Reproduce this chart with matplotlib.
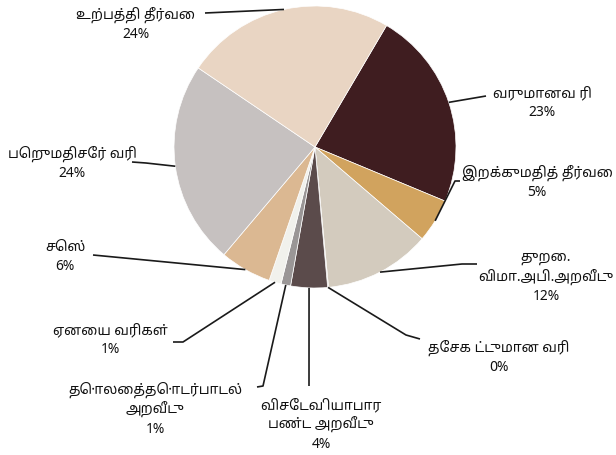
import matplotlib
matplotlib.use("Agg")
import matplotlib.pyplot as plt
import numpy as np

plt.rcParams['font.family'] = ['Noto Sans Tamil', 'DejaVu Sans']

# slices, clockwise from the top-right boundary
labels = ["வருமானவ ரி", "இறக்குமதித் தீர்வை", "துறை.\nவிமா.அபி.அறவீடு",
          "தேசக ட்டுமான வரி", "விசேடவ ியாபார\nபண்ட அறவீடு",
          "தொலைத்தொடர்பாடல்\nஅறவீடு", "ஏனைய வரிகள்", "செஸ்",
          "பெறுமதிசேர் வரி", "உற்பத்தி தீர்வை"]
values = [22.8, 5.0, 12.2, 0.1, 4.2, 1.1, 1.4, 5.9, 23.3, 24.0]
pct_labels = ["23%", "5%", "12%", "0%", "4%", "1%", "1%", "6%", "24%", "24%"]
colors = ["#3f1d20", "#d1a35e", "#d3cbbe", "#b9a98f", "#5b4b4b",
          "#9a9696", "#f1f1ec", "#dbb892", "#c6c1c0", "#e9d5c3"]

W, H = 616, 455
cx, cy, R = 315, 147, 141

# label layout in pixels (from top): text centre, elbow, line end
text_pos = [(542, 103), (537, 182), (546, 277), (499, 357), (321, 425),
            (155, 409), (110, 340), (65, 257), (72, 163), (136, 24)]
elbows = [None, (455, 181), (462, 264), (406, 335), None,
          (263, 386), (183, 342), None, (146, 163), None]
anchors = [(486, 96), (460, 181), (477, 264), (420, 339), (309, 386),
           (257, 387), (173, 342), (93, 255), (132, 162), (205, 13)]

fig = plt.figure(figsize=(W / 100, H / 100), dpi=100)
ax = fig.add_axes([0, 0, 1, 1])

wedges, _ = ax.pie(values, colors=colors, startangle=59.5, counterclock=False,
                   center=(cx, H - cy), radius=R, frame=False,
                   wedgeprops=dict(edgecolor="white", linewidth=0.5))

for i, w in enumerate(wedges):
    mid = np.deg2rad((w.theta1 + w.theta2) / 2)
    pts = [(cx + R * np.cos(mid), H - cy + R * np.sin(mid))]
    if elbows[i] is not None:
        pts.append((elbows[i][0], H - elbows[i][1]))
    pts.append((anchors[i][0], H - anchors[i][1]))
    xs, ys = zip(*pts)
    ax.plot(xs, ys, color="#1a1a1a", lw=1.2, solid_capstyle="butt")
    tx, ty = text_pos[i]
    ax.text(tx, H - ty, labels[i] + "\n" + pct_labels[i], ha="center",
            va="center", multialignment="center", fontsize=10,
            color="#111111", linespacing=1.35)

ax.set_xlim(0, W)
ax.set_ylim(0, H)
ax.set_aspect("equal")
ax.axis("off")

fig.savefig("out.png", dpi=100)
